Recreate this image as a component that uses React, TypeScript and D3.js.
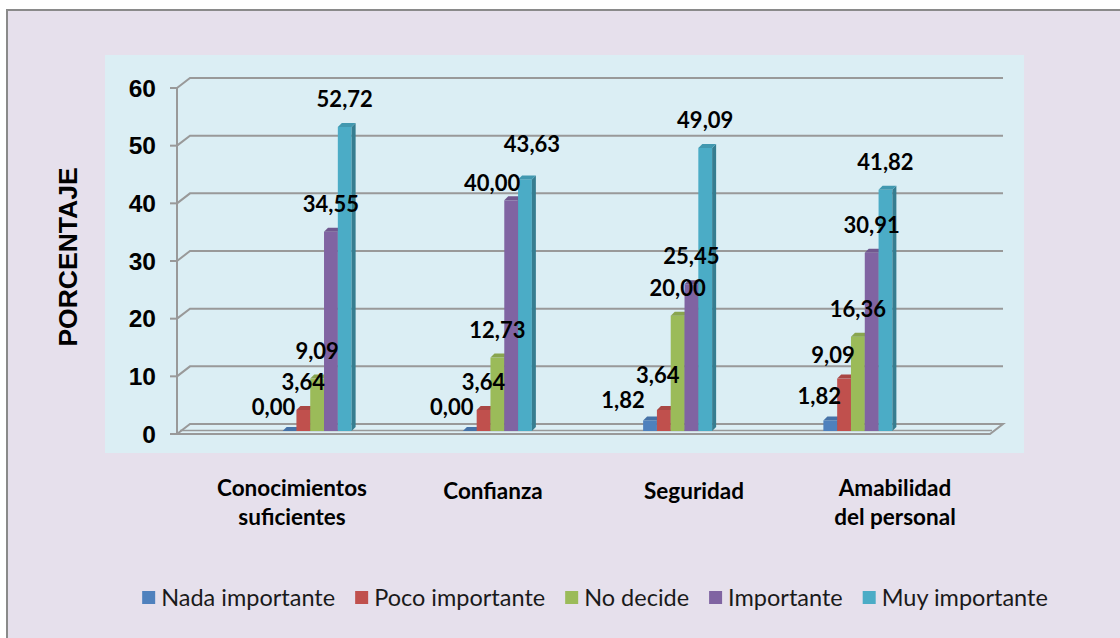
import React, { useEffect, useRef } from "react";
import * as d3 from "d3";

const categories = [
  "Conocimientos suficientes",
  "Confianza",
  "Seguridad",
  "Amabilidad del personal",
];
const categoryLines = [
  ["Conocimientos", "suficientes"],
  ["Confianza"],
  ["Seguridad"],
  ["Amabilidad", "del personal"],
];
const series = [
  "Nada importante",
  "Poco importante",
  "No decide",
  "Importante",
  "Muy importante",
];
const nadaImportante = [0.0, 0.0, 1.82, 1.82];
const pocoImportante = [3.64, 3.64, 3.64, 9.09];
const noDecide = [9.09, 12.73, 20.0, 16.36];
const importante = [34.55, 40.0, 25.45, 30.91];
const muyImportante = [52.72, 43.63, 49.09, 41.82];
const seriesValues = [nadaImportante, pocoImportante, noDecide, importante, muyImportante];
const seriesColors = ["#4F81BD", "#C0504D", "#9BBB59", "#8064A2", "#4BACC6"];
const yTicks = [0, 10, 20, 30, 40, 50, 60];
const axisTitle = "PORCENTAJE";

// manual data-label nudges seen in the reference (layout only): [dx, dy]
const labelNudge: Record<string, [number, number]> = {
  "0-0": [-16, 4],
  "0-1": [-18, 4],
  "3-1": [-19, 11],
  "4-1": [7, -7],
  "0-2": [-27, 7],
  "1-2": [-6, -7],
  "0-3": [-11, 3],
  "1-3": [-11, 4],
};

const FONT_LABEL = 'Lato, "Open Sans", "DejaVu Sans", sans-serif';
const FONT_AXIS = '"Liberation Sans", Arial, sans-serif';

export default function App() {
  const ref = useRef<SVGSVGElement>(null);

  useEffect(() => {
    const svg = d3.select(ref.current);
    svg.selectAll("*").remove();

    const W = 1120;
    const H = 638;
    const gridColor = "#999999";
    const DX = 13;
    const DY = -10;
    const axisX = 177;
    const floorRight = 990;

    const y = d3.scaleLinear().domain([0, 60]).range([434, 88]);
    const x0 = d3.scaleBand<string>().domain(categories).range([227, 948]);
    const groupW = 69;
    const x1 = d3.scaleBand<string>().domain(series).range([0, groupW]);
    const groupOffset = (x0.bandwidth() - groupW) / 2;
    const labelX = d3.scalePoint<string>().domain(categories).range([292, 895]);

    const fmt = d3
      .formatLocale({ decimal: ",", thousands: ".", grouping: [3], currency: ["", ""] })
      .format(".2f");

    // outer background
    svg
      .append("rect")
      .attr("x", 7)
      .attr("y", 10)
      .attr("width", W + 10)
      .attr("height", H + 10)
      .attr("fill", "#E6E0EC")
      .attr("stroke", "#8A8A8A")
      .attr("stroke-width", 2);

    // plot area
    svg
      .append("rect")
      .attr("x", 105)
      .attr("y", 55)
      .attr("width", 1024 - 105)
      .attr("height", 453 - 55)
      .attr("fill", "#DBEEF4");

    // gridlines (walls)
    const gridG = svg.append("g").attr("fill", "none").attr("stroke", gridColor).attr("stroke-width", 2);
    yTicks.forEach((t) => {
      const yy = y(t);
      gridG.append("line").attr("x1", axisX - 7).attr("x2", axisX).attr("y1", yy).attr("y2", yy);
      if (t > 0) {
        gridG
          .append("path")
          .attr("d", `M${axisX},${yy} L${axisX + DX},${yy + DY} L${floorRight + DX},${yy + DY}`);
      }
    });
    gridG
      .append("line")
      .attr("x1", axisX)
      .attr("x2", axisX)
      .attr("y1", y(0))
      .attr("y2", y(60));

    // floor slab
    const y0 = y(0);
    svg
      .append("path")
      .attr(
        "d",
        `M${axisX},${y0} L${floorRight},${y0} L${floorRight + DX},${y0 + DY} L${axisX + DX},${y0 + DY} Z`
      )
      .attr("fill", "#DDEFF5")
      .attr("stroke", gridColor)
      .attr("stroke-width", 2);
    svg
      .append("line")
      .attr("x1", axisX + 3)
      .attr("x2", floorRight + 2)
      .attr("y1", y0 - 3.5)
      .attr("y2", y0 - 3.5)
      .attr("stroke", gridColor)
      .attr("stroke-width", 1.5);

    // ticks labels
    svg
      .append("g")
      .selectAll("text")
      .data(yTicks)
      .join("text")
      .attr("x", 156)
      .attr("y", (d) => y(d))
      .attr("dy", "0.36em")
      .attr("text-anchor", "end")
      .attr("font-family", FONT_AXIS)
      .attr("font-weight", "bold")
      .attr("font-size", 24.5)
      .attr("fill", "#000")
      .text((d) => String(d));

    // axis title
    svg
      .append("text")
      .attr("transform", "translate(77,257) rotate(-90)")
      .attr("text-anchor", "middle")
      .attr("font-family", FONT_AXIS)
      .attr("font-weight", "bold")
      .attr("font-size", 26.5)
      .attr("fill", "#000")
      .text(axisTitle);

    // bars
    const barBase = y0 - 3;
    const bdx = 4;
    const bdy = -4;
    const barsG = svg.append("g");
    const labels: { x: number; y: number; text: string }[] = [];
    categories.forEach((cat, ci) => {
      series.forEach((s, si) => {
        const v = seriesValues[si][ci];
        const w = x1.bandwidth();
        const bx = (x0(cat) as number) + groupOffset + (x1(s) as number);
        const top = barBase - (y0 - y(v));
        const col = d3.color(seriesColors[si]) as d3.RGBColor;
        const g = barsG.append("g");
        g.append("rect")
          .attr("x", bx)
          .attr("y", top)
          .attr("width", w)
          .attr("height", Math.max(0, barBase - top))
          .attr("fill", seriesColors[si]);
        g.append("path")
          .attr(
            "d",
            `M${bx + w},${top} L${bx + w + bdx},${top + bdy} L${bx + w + bdx},${barBase + bdy} L${bx + w},${barBase} Z`
          )
          .attr("fill", col.darker(0.9).toString());
        g.append("path")
          .attr(
            "d",
            `M${bx},${top} L${bx + w},${top} L${bx + w + bdx},${top + bdy} L${bx + bdx},${top + bdy} Z`
          )
          .attr("fill", col.darker(0.35).toString());
        const nudge = labelNudge[`${si}-${ci}`] || [0, 0];
        labels.push({ x: bx + w / 2 + nudge[0], y: top - 20 + nudge[1], text: fmt(v) });
      });
    });

    // data labels
    svg
      .append("g")
      .selectAll("text")
      .data(labels)
      .join("text")
      .attr("x", (d) => d.x)
      .attr("y", (d) => d.y)
      .attr("text-anchor", "middle")
      .attr("font-family", FONT_LABEL)
      .attr("font-weight", "bold")
      .attr("font-size", 22)
      .attr("fill", "#000")
      .text((d) => d.text);

    // category labels
    const catG = svg.append("g");
    categories.forEach((cat, ci) => {
      const lines = categoryLines[ci];
      const t = catG
        .append("text")
        .attr("text-anchor", "middle")
        .attr("font-family", FONT_LABEL)
        .attr("font-weight", "bold")
        .attr("font-size", 22.5)
        .attr("fill", "#000");
      lines.forEach((ln, li) => {
        t.append("tspan")
          .attr("x", labelX(cat) as number)
          .attr("y", (lines.length === 1 ? 499 : 496) + li * 29)
          .text(ln);
      });
    });

    // legend
    const legG = svg.append("g");
    const sq = 13;
    const gapSqText = 6;
    const gapItems = 20;
    const items = series.map((s, si) => {
      const g = legG.append("g");
      g.append("rect").attr("x", 0).attr("y", -15).attr("width", sq).attr("height", sq).attr("fill", seriesColors[si]);
      const t = g
        .append("text")
        .attr("x", sq + gapSqText)
        .attr("y", 0)
        .attr("font-family", FONT_LABEL)
        .attr("font-size", 23.5)
        .attr("fill", "#1a1a1a")
        .text(s);
      const tw = (t.node() as SVGTextElement).getComputedTextLength();
      return { g, w: sq + gapSqText + tw };
    });
    const total = d3.sum(items, (d) => d.w) + gapItems * (items.length - 1);
    let cx = 595 - total / 2;
    items.forEach((it) => {
      it.g.attr("transform", `translate(${cx},606)`);
      cx += it.w + gapItems;
    });
  }, []);

  return (
    <svg
      ref={ref}
      width={1120}
      height={638}
      style={{ position: "absolute", left: 0, top: 0, display: "block" }}
    />
  );
}
